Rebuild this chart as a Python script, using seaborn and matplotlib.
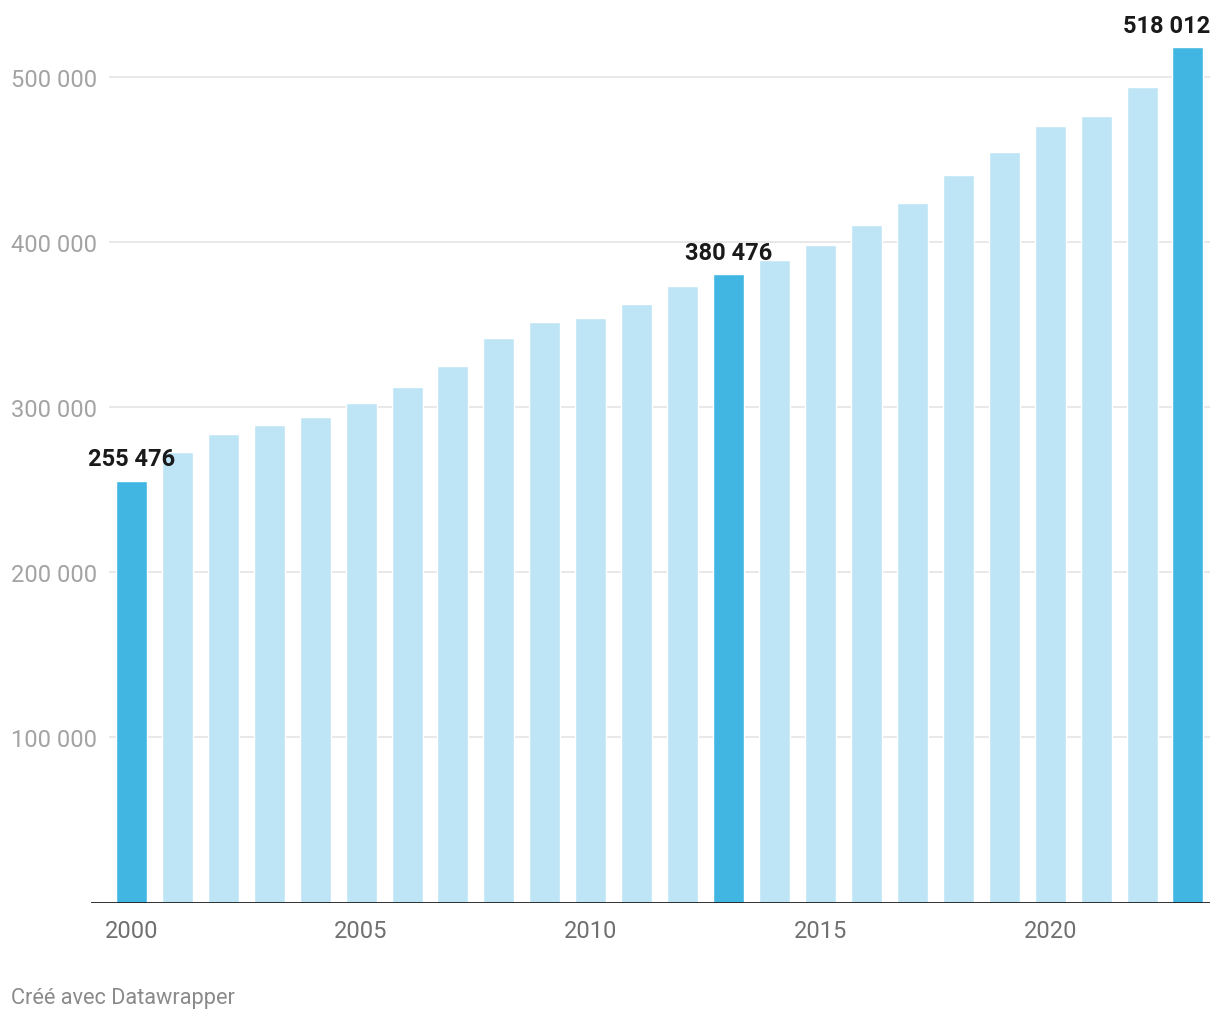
import matplotlib
matplotlib.use("Agg")
import matplotlib.pyplot as plt
import pandas as pd
import seaborn as sns

# ── Data ───────────────────────────────────────────────────────────────────────

years = list(range(2000, 2024))
values = [
    255476, 272700, 283600, 289100, 293900, 302400, 312100, 324800,
    341800, 351500, 353900, 362400, 373300, 380476, 389100, 398200,
    410300, 423600, 440600, 454500, 470300, 476400, 493900, 518012,
]
highlight_years = [2000, 2013, 2023]
y_ticks = [100000, 200000, 300000, 400000, 500000]
x_tick_years = [2000, 2005, 2010, 2015, 2020]
footer = "Créé avec Datawrapper"

DARK = "#41b6e2"
LIGHT = "#bde5f5"


def fmt(v):
    return f"{v:,}".replace(",", " ")


df = pd.DataFrame({"year": years, "value": values})
df["kind"] = ["highlight" if y in highlight_years else "base" for y in years]

sns.set_theme(style="white")
plt.rcParams["font.family"] = ["Roboto", "DejaVu Sans"]

W, H = 1220, 1020
fig = plt.figure(figsize=(W / 100, H / 100), dpi=100)
ax = fig.add_axes([91 / W, (H - 903.5) / H, (1210 - 91) / W, 903.5 / H])

sns.barplot(data=df, x="year", y="value", hue="kind",
            palette={"highlight": DARK, "base": LIGHT},
            width=0.675, saturation=1, legend=False, ax=ax, zorder=2)

ax.set_xlim(-0.88, 23.48)
ax.set_ylim(0, 547200)
ax.hlines(y_ticks, -0.49, 23.48, color="#e4e4e4", linewidth=1.2, zorder=0.5)
ax.axhline(0, color="#1e1e1e", linewidth=2, zorder=3)
for s in ax.spines.values():
    s.set_visible(False)

ax.set_xticks([years.index(y) for y in x_tick_years])
ax.set_xticklabels([str(y) for y in x_tick_years], fontsize=17, color="#707070")
ax.set_yticks(y_ticks)
ax.set_yticklabels([fmt(v) for v in y_ticks], fontsize=17, color="#a3a3a3")
ax.tick_params(axis="x", length=0, pad=12)
ax.tick_params(axis="y", length=0, pad=57.6)
for lbl in ax.get_yticklabels():
    lbl.set_horizontalalignment("left")
ax.set_xlabel("")
ax.set_ylabel("")

for y in highlight_years:
    i = years.index(y)
    v = values[i]
    if i == len(years) - 1:
        ax.annotate(fmt(v), (1, v), xycoords=ax.get_yaxis_transform(),
                    xytext=(0, 11), textcoords="offset points",
                    ha="right", va="baseline", fontsize=17,
                    fontweight="bold", color="#1a1a1a")
    else:
        ax.annotate(fmt(v), (i, v), xytext=(0, 11), textcoords="offset points",
                    ha="center", va="baseline", fontsize=17,
                    fontweight="bold", color="#1a1a1a")

fig.text(11 / W, (H - 1004) / H, footer, fontsize=15.7, color="#8a8a8a",
         ha="left", va="baseline")

fig.savefig("out.png", dpi=100)
